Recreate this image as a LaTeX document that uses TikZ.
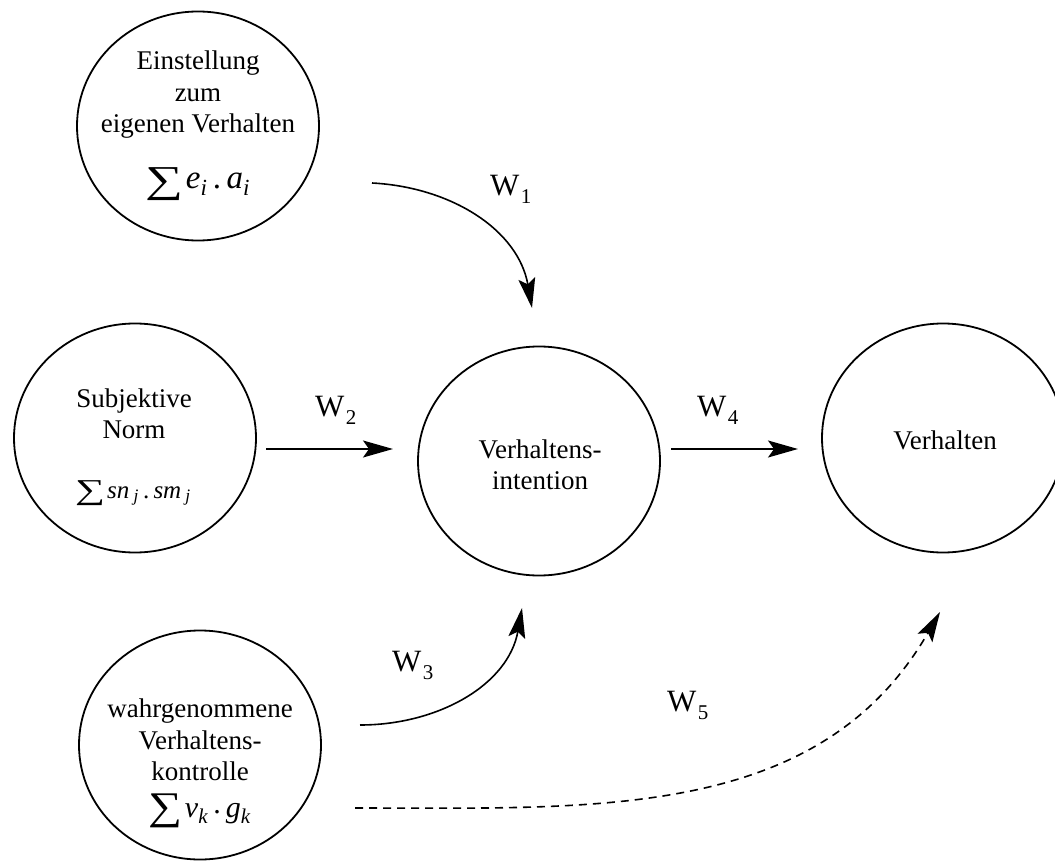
\documentclass[tikz,border=0pt]{standalone}
\usepackage{graphicx}
\usepackage{fontspec}
\setmainfont{Liberation Serif}
\usetikzlibrary{shapes.geometric,arrows.meta}
\newcommand{\wlabel}[1]{W\kern1.5pt\raisebox{-8pt}{\fontsize{21}{21}\selectfont #1}}
% summation sign: width, total height, depth below baseline
\newcommand{\bigsum}[3]{\raisebox{-#3}{\resizebox*{#1}{#2}{\raisebox{\depth}{∑}}}\kern2pt}
\begin{document}
\begin{tikzpicture}[x=1pt,y=-1pt,
  circ/.style={draw, ellipse, line width=1.8pt, minimum width=242pt, minimum height=229pt, inner sep=0pt},
  txt/.style={align=center, font=\fontsize{27}{31.5}\selectfont, inner sep=0pt},
  wlab/.style={font=\fontsize{31}{31}\selectfont, inner sep=0pt, anchor=base west},
  conn/.style={line width=1.6pt, -{Stealth[length=30pt,width=17pt,inset=6pt]}},
  dconn/.style={conn, dash pattern=on 8pt off 6pt},
]
\useasboundingbox (0,0) rectangle (1055,861);
% circles
\node[circ] (A) at (198,126) {};
\node[circ] (S) at (135,438) {};
\node[circ] (I) at (539,461) {};
\node[circ] (V) at (943,438) {};
\node[circ] (K) at (200,745) {};
% texts
\node[txt] (At) at (198,95) {Einstellung\\zum\\eigenen Verhalten};
\node[inner sep=0pt, anchor=base] (As) at (198,189) {\fontsize{33}{33}\selectfont\bigsum{38pt}{33pt}{12pt}\textit{e}\textsubscript{\textit{i}}\,.\,\textit{a}\textsubscript{\textit{i}}};
\node[txt] (St) at (134,414) {Subjektive\\Norm};
\node[inner sep=0pt, anchor=base] (Ss) at (133,498) {\fontsize{25}{25}\selectfont\bigsum{30pt}{25pt}{8pt}\textit{sn}\,\textsubscript{\textit{j}}\,.\,\textit{sm}\,\textsubscript{\textit{j}}};
\node[txt] (It) at (540,465) {Verhaltens-\\intention};
\node[txt] (Vt) at (945,440) {Verhalten};
\node[txt] (Kt) at (200,740) {wahrgenommene\\Verhaltens-\\kontrolle};
\node[inner sep=0pt, anchor=base] (Ks) at (200,817) {\fontsize{30}{30}\selectfont\bigsum{34pt}{34pt}{11pt}\textit{v}\textsubscript{\textit{k}}\,\raisebox{4pt}{.}\,\textit{g}\textsubscript{\textit{k}}};
% connector end points
\coordinate (w1s) at (372,183);
\coordinate (w1e) at (532,308);
\coordinate (w2s) at (266,449);
\coordinate (w2e) at (393,449);
\coordinate (w4s) at (671,449);
\coordinate (w4e) at (798,449);
\coordinate (w3s) at (360,725);
\coordinate (w3e) at (522,608);
\coordinate (w5s) at (355,808);
\coordinate (w5e) at (940,612);
% connectors
\draw[conn] (w1s) to[out=-3, in=100] (w1e);
\draw[conn] (w2s) -- (w2e);
\draw[conn] (w4s) -- (w4e);
\draw[conn] (w3s) to[out=0, in=-100] (w3e);
\draw[dconn] (w5s) to[out=0, in=-120] (w5e);
% labels
\node[wlab] (L1) at (490,196) {\wlabel{1}};
\node[wlab] (L2) at (315,416) {\wlabel{2}};
\node[wlab] (L4) at (697,416) {\wlabel{4}};
\node[wlab] (L3) at (392,671) {\wlabel{3}};
\node[wlab] (L5) at (667,711) {\wlabel{5}};
\end{tikzpicture}
\end{document}
